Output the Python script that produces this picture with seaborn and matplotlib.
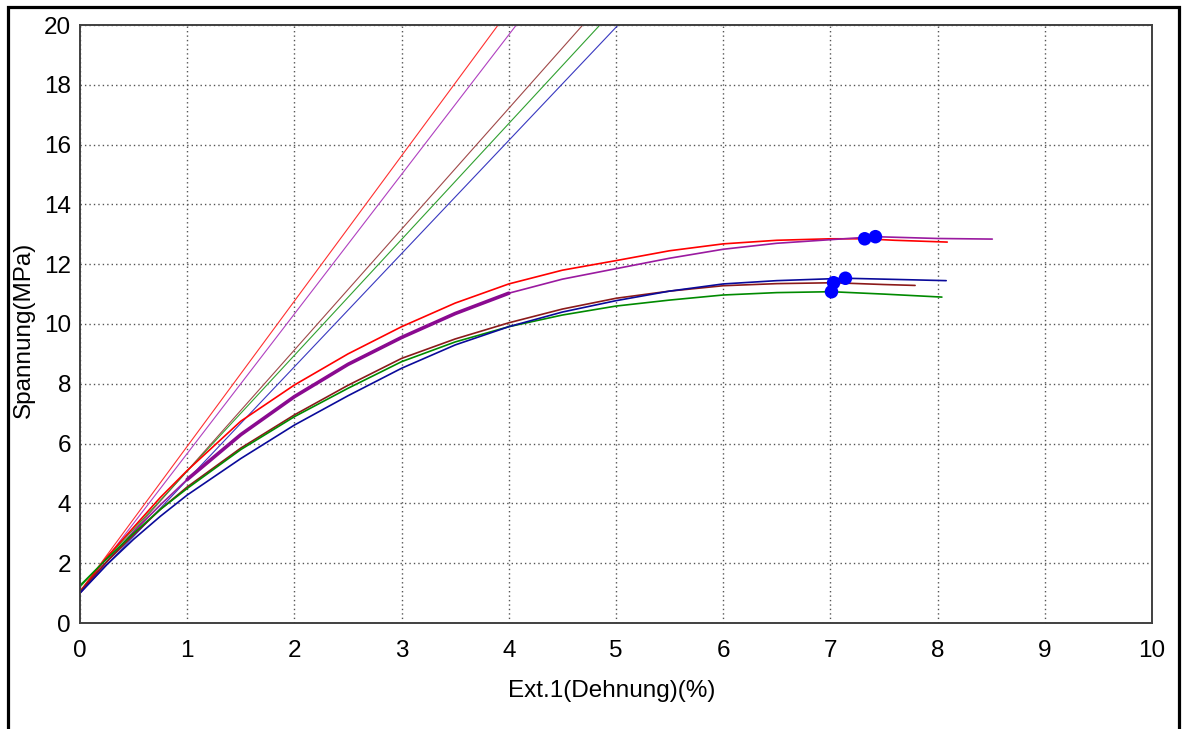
import numpy as np
import pandas as pd
import matplotlib
matplotlib.use("Agg")
import matplotlib.pyplot as plt
from matplotlib.patches import Rectangle
import seaborn as sns

sns.set_style("white")
plt.rcParams["font.family"] = ["Liberation Sans", "DejaVu Sans"]
plt.rcParams["text.color"] = "black"

# Stress-strain curves: strain (%) and stress (MPa) for five specimens
red_x = [0, 0.25, 0.5, 0.75, 1, 1.5, 2, 2.5, 3, 3.5, 4, 4.5, 5, 5.5, 6, 6.5, 7, 7.32, 7.6, 8.09]
red_y = [1.05, 2.2, 3.2, 4.2, 5.1, 6.75, 7.96, 9.0, 9.91, 10.7, 11.34, 11.8, 12.12, 12.45, 12.68, 12.8, 12.85, 12.85, 12.8, 12.74]

purple_x = [0, 0.25, 0.5, 0.75, 1, 1.5, 2, 2.5, 3, 3.5, 4, 4.5, 5, 5.5, 6, 6.5, 7, 7.42, 8, 8.51]
purple_y = [1.0, 2.05, 3.05, 3.95, 4.8, 6.3, 7.57, 8.65, 9.55, 10.35, 11.03, 11.5, 11.85, 12.2, 12.5, 12.7, 12.82, 12.92, 12.86, 12.84]

brown_x = [0, 0.25, 0.5, 0.75, 1, 1.5, 2, 2.5, 3, 3.5, 4, 4.5, 5, 5.5, 6, 6.5, 7.03, 7.5, 7.79]
brown_y = [1.05, 2.05, 2.95, 3.8, 4.55, 5.85, 6.96, 7.95, 8.85, 9.5, 10.04, 10.5, 10.86, 11.1, 11.28, 11.35, 11.38, 11.32, 11.29]

green_x = [0, 0.25, 0.5, 0.75, 1, 1.5, 2, 2.5, 3, 3.5, 4, 4.5, 5, 5.5, 6, 6.5, 7.01, 7.5, 8.04]
green_y = [1.25, 2.15, 3.0, 3.8, 4.5, 5.8, 6.9, 7.85, 8.74, 9.4, 9.91, 10.3, 10.6, 10.8, 10.97, 11.05, 11.08, 11.0, 10.9]

blue_x = [0, 0.25, 0.5, 0.75, 1, 1.5, 2, 2.5, 3, 3.5, 4, 4.5, 5, 5.5, 6, 6.5, 7.14, 7.5, 8.08]
blue_y = [1.0, 1.95, 2.8, 3.57, 4.28, 5.5, 6.62, 7.6, 8.52, 9.3, 9.91, 10.4, 10.78, 11.1, 11.34, 11.45, 11.53, 11.5, 11.45]

# Modulus lines: start and end points (strain %, stress MPa)
mod_red = ([0, 3.90], [1.05, 20])
mod_purple = ([0, 4.07], [1.0, 20])
mod_brown = ([0, 4.69], [1.05, 20])
mod_green = ([0, 4.85], [1.2, 20])
mod_blue = ([0, 5.02], [1.0, 20])

# Maximum-stress points
peak_x = [7.32, 7.42, 7.03, 7.01, 7.14]
peak_y = [12.85, 12.92, 11.38, 11.08, 11.53]

x_ticks = list(range(0, 11))
y_ticks = list(range(0, 21, 2))

curve_colors = {"red": "#ff0000", "purple": "#9a1aa0", "brown": "#8b1a1a",
                "green": "#008a00", "blue": "#0a0a9a"}
line_colors = {"red": "#ff3030", "purple": "#b040c0", "brown": "#a04848",
               "green": "#30a030", "blue": "#3838c0"}

fig = plt.figure(figsize=(11.82, 7.29), dpi=100)
ax = fig.add_axes([80 / 1182, 106 / 729, 1072 / 1182, 598 / 729])

# Figure frame
fig.patches.append(Rectangle((7.5 / 1182, -0.05), 1171.5 / 1182, 1.05 - 7.5 / 729,
                             transform=fig.transFigure, fill=False,
                             edgecolor="black", linewidth=2.3, zorder=10))

curves = [("red", red_x, red_y), ("purple", purple_x, purple_y),
          ("brown", brown_x, brown_y), ("green", green_x, green_y),
          ("blue", blue_x, blue_y)]
mods = [("red", mod_red), ("purple", mod_purple), ("brown", mod_brown),
        ("green", mod_green), ("blue", mod_blue)]

for name, (mx, my) in mods:
    sns.lineplot(x=mx, y=my, color=line_colors[name], linewidth=0.8,
                 estimator=None, sort=False, ax=ax)

for name, cx, cy in curves:
    sns.lineplot(x=cx, y=cy, color=curve_colors[name], linewidth=1.2,
                 estimator=None, sort=False, ax=ax)

# Heavier trace of the purple curve in its early range
px = np.array(purple_x)
py = np.array(purple_y)
m = (px >= 1.0) & (px <= 4.0)
sns.lineplot(x=px[m], y=py[m], color="#8a0a90", linewidth=2.6,
             estimator=None, sort=False, ax=ax)

ax.scatter(peak_x, peak_y, s=95, color="#0000ff", zorder=5, edgecolors="none")

ax.set_xlim(0, 10)
ax.set_ylim(0, 20)
ax.set_xticks(x_ticks)
ax.set_yticks(y_ticks)
ax.set_xticklabels([str(v) for v in x_ticks])
ax.set_yticklabels([str(v) for v in y_ticks])
ax.tick_params(axis="both", length=0, labelsize=17.5, colors="black",
               labelcolor="black")
ax.tick_params(axis="x", pad=12.5)
ax.tick_params(axis="y", pad=6.5)

ax.grid(True, color="#555555", linestyle=(0, (1, 2.2)), linewidth=1.0)
ax.set_axisbelow(True)
for s in ax.spines.values():
    s.set_color("#404040")
    s.set_linewidth(1.4)
    s.set_visible(True)

ax.set_xlabel("")
ax.set_ylabel("")
fig.text(612 / 1182, 1 - 691 / 729, "Ext.1(Dehnung)(%)", fontsize=17.5,
         ha="center", va="center", color="black")
fig.text(24 / 1182, 1 - 330 / 729, "Spannung(MPa)", fontsize=17.5,
         ha="center", va="center", rotation=90, color="black")

fig.savefig("out.png", dpi=100, facecolor="white")
